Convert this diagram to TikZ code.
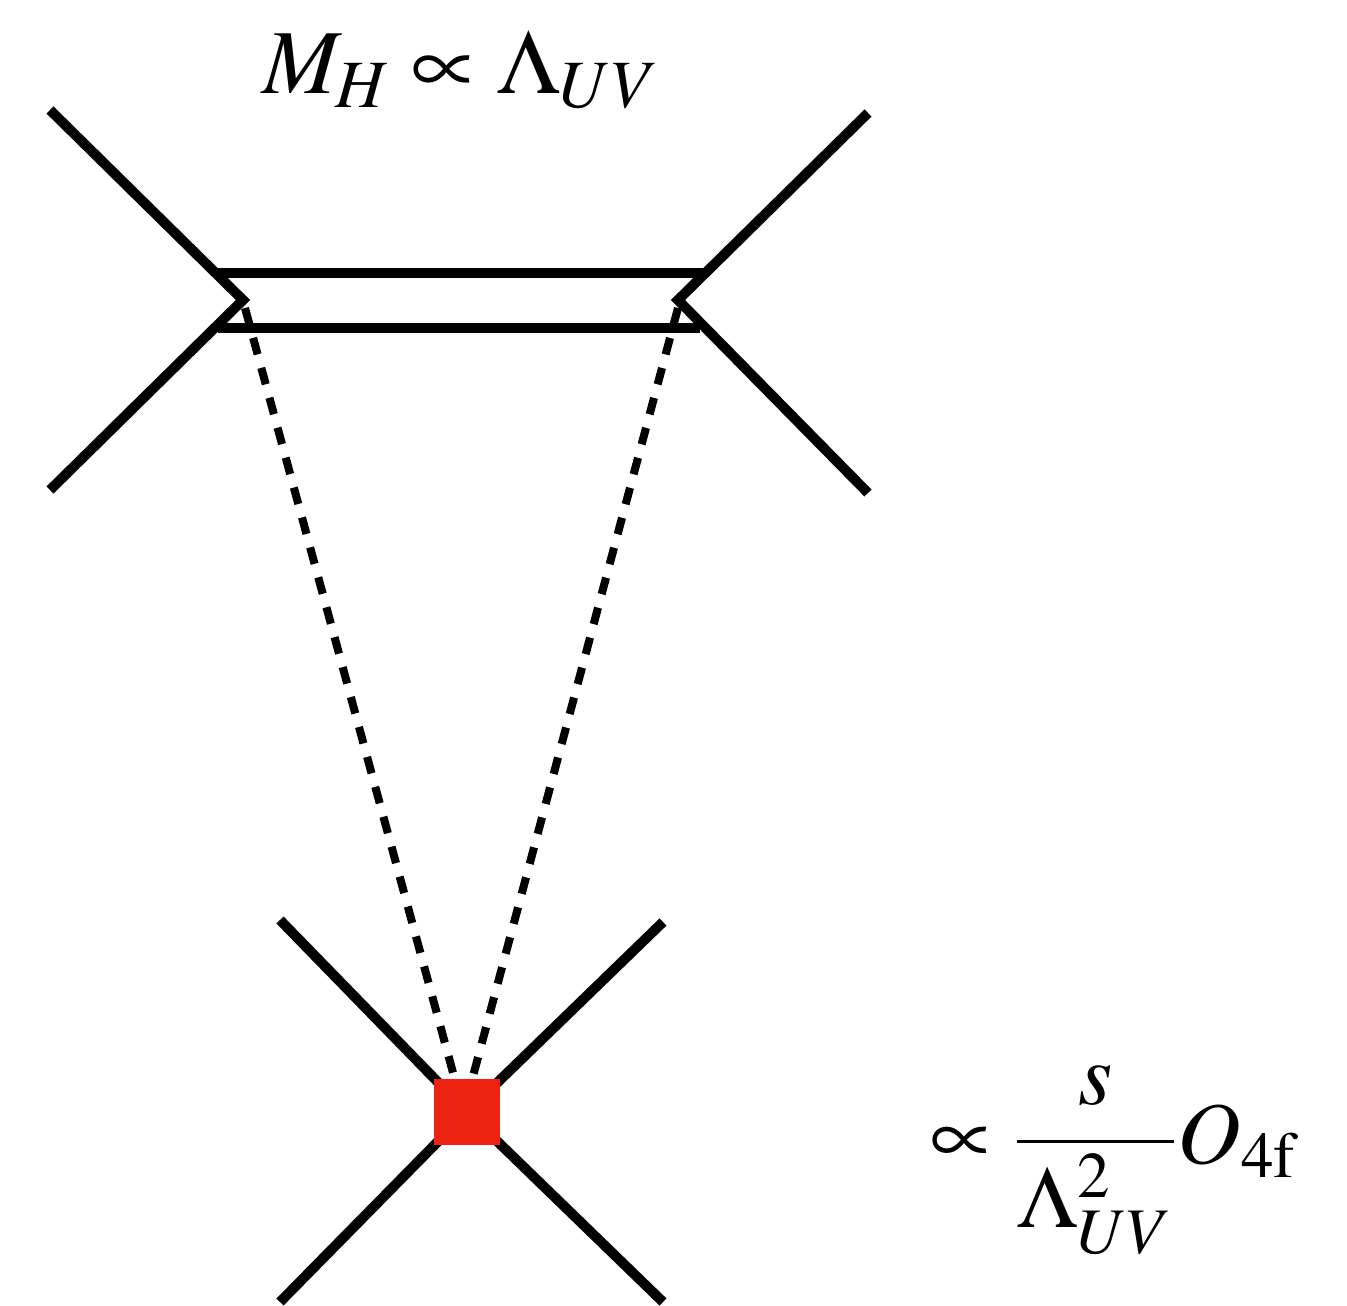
\documentclass[tikz,border=0pt]{standalone}
\usepackage{mathptmx}
\usepackage{fontspec}
\setmainfont{Liberation Serif}
\usetikzlibrary{positioning}
\definecolor{clrvertex}{HTML}{EE2211}

\begin{document}
\begin{tikzpicture}[
    x=0.01cm, y=-0.01cm,
    fermion/.style={line width=10*0.2845pt, black},
    heavy/.style={line width=10*0.2845pt, black},
    scalar/.style={line width=8*0.2845pt, black, dash pattern=on 17*0.2845pt off 14*0.2845pt},
    effvertex/.style={fill=clrvertex, draw=none, minimum size=66*0.2845pt, inner sep=0pt},
    label/.style={font=\fontsize{26}{30}\selectfont, inner sep=0pt},
]
\useasboundingbox (0,0) rectangle (1347,1306);
% upper diagram
\coordinate (v_left) at (243,300);
\coordinate (v_right) at (678,300);
\coordinate (f_1) at (50,110);
\coordinate (f_2) at (50,490);
\coordinate (f_3) at (868,113);
\coordinate (f_4) at (868,493);
\draw[fermion] (f_1) -- (v_left) -- (f_2);
\draw[fermion] (f_3) -- (v_right) -- (f_4);
\coordinate (h_tl) at (218,273);
\coordinate (h_tr) at (705,273);
\coordinate (h_bl) at (218,328);
\coordinate (h_br) at (700,328);
\draw[heavy] (h_tl) -- (h_tr);
\draw[heavy] (h_bl) -- (h_br);
\node[label] (mass) at (461,70) {$M_H \propto \Lambda_{UV}$};
% lower diagram
\node[effvertex] (op) at (467,1112) {};
\coordinate (g_1) at (280,920);
\coordinate (g_2) at (663,922);
\coordinate (g_3) at (280,1302);
\coordinate (g_4) at (663,1302);
\draw[fermion] (g_1) -- (op.center) -- (g_4);
\draw[fermion] (g_2) -- (op.center) -- (g_3);
\node[effvertex] at (op) {};
% loop
\draw[scalar] (245,308) coordinate (d_l) -- (455,1080);
\draw[scalar] (678,308) coordinate (d_r) -- (472,1080);
\node[label, anchor=west, font=\fontsize{25}{30}\selectfont] (coef) at (930,1160) {$\displaystyle \propto \frac{s}{\Lambda_{UV}^2}O_{\mathrm{4f}}$};
\end{tikzpicture}
\end{document}
